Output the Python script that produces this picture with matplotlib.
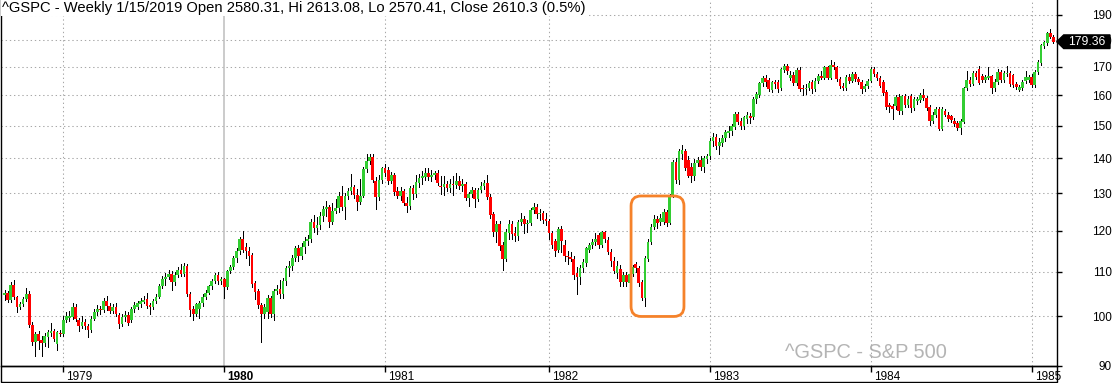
import matplotlib
matplotlib.use("Agg")
import matplotlib.pyplot as plt
import numpy as np
from matplotlib.patches import Polygon, Rectangle, FancyBboxPatch
from matplotlib.transforms import IdentityTransform
from matplotlib.ticker import FixedLocator, FixedFormatter, NullLocator, NullFormatter

plt.rcParams["font.family"] = ["Liberation Sans", "DejaVu Sans"]

# weekly S&P 500 bars, week of 25 Aug 1978 .. week of 22 Feb 1985
opens = [
    104.7, 105.2, 103.6, 107.0, 104.2, 102.0, 102.7, 103.8, 105.0, 98.2,
    94.7, 96.4, 95.2, 94.5, 95.8, 96.5, 96.9, 94.4, 96.6,
    # 1979
    96.4, 99.2, 99.7, 99.9, 102.1, 99.2, 97.9, 98.9, 98.0, 97.1,
    99.5, 100.9, 101.6, 101.4, 103.4, 102.2, 101.2, 102.1, 100.4, 98.5,
    99.9, 100.4, 99.2, 101.6, 102.1, 102.7, 103.2, 103.8, 102.5, 102.0,
    103.3, 104.2, 106.7, 108.4, 108.8, 109.4, 107.7, 109.2, 110.4, 109.4,
    111.4, 104.8, 101.7, 100.6, 101.5, 102.8, 104.3, 105.2, 106.6, 107.8, 109.2, 107.8,
    # 1980
    108.2, 106.5, 110.1, 111.0, 113.2, 115.0, 117.9, 116.0, 115.0, 114.0,
    107.4, 105.5, 102.5, 100.6, 101.0, 104.0, 100.6, 105.5, 105.9, 104.8,
    107.8, 110.9, 111.4, 113.3, 115.7, 113.8, 115.9, 117.4, 117.9, 122.2,
    120.8, 121.4, 123.7, 125.8, 126.3, 122.3, 125.2, 125.9, 129.3, 126.2,
    129.3, 130.6, 131.6, 129.6, 127.6, 129.3, 136.8, 139.1, 140.5, 133.3, 129.0, 133.8,
    # 1981
    137.0, 136.4, 133.5, 135.0, 130.7, 129.3, 130.6, 127.3, 126.4, 131.3,
    129.7, 132.9, 134.1, 134.4, 135.8, 134.4, 135.0, 135.6, 132.1, 131.7,
    132.6, 131.3, 132.6, 132.3, 133.4, 132.1, 132.5, 128.7, 129.7, 130.9,
    128.4, 130.9, 132.1, 132.7, 128.8, 124.4, 119.6, 121.6, 116.4, 112.9,
    119.4, 121.8, 119.4, 118.6, 122.2, 122.9, 121.6, 121.9, 125.3, 126.3, 124.3, 124.6, 122.9,
    # 1982
    122.6, 119.3, 117.5, 115.2, 120.4, 116.4, 113.6, 113.4, 113.1, 109.7,
    108.7, 110.9, 112.0, 115.2, 116.4, 117.2, 119.0, 116.4, 119.6, 117.7,
    114.8, 112.4, 109.7, 110.6, 107.7, 109.1, 107.4, 109.4, 111.9, 110.9,
    107.7, 104.1, 113.0, 117.2, 121.0, 122.9, 122.2, 122.2, 124.8, 122.0,
    129.3, 138.9, 133.6, 141.2, 142.2, 139.4, 137.3, 134.8, 138.5, 139.4, 137.3, 139.7,
    # 1983
    140.6, 145.2, 146.6, 143.6, 144.6, 146.2, 147.7, 148.2, 149.6, 153.7,
    151.5, 149.8, 152.2, 153.1, 152.8, 158.9, 160.3, 164.4, 166.1, 165.2,
    162.0, 164.5, 164.5, 162.7, 169.0, 170.3, 166.2, 167.2, 164.2, 169.0,
    162.7, 162.1, 162.7, 164.5, 162.2, 164.9, 166.9, 166.1, 169.8, 166.1,
    170.7, 169.8, 165.8, 163.4, 162.7, 166.5, 165.1, 167.5, 165.7, 164.8, 162.2, 163.1,
    # 1984
    165.1, 169.2, 167.4, 166.1, 164.8, 161.1, 156.8, 156.4, 156.4, 159.5,
    154.7, 159.7, 156.9, 159.7, 155.8, 158.0, 158.6, 160.2, 159.2, 156.1,
    151.6, 153.6, 155.4, 149.1, 154.7, 153.6, 153.0, 151.6, 150.9, 149.4,
    151.3, 162.4, 165.5, 164.1, 167.8, 169.4, 166.6, 165.2, 166.1, 166.6,
    162.4, 164.6, 168.2, 165.5, 167.4, 167.8, 167.0, 163.8, 162.0, 162.7, 165.0, 165.2,
    # 1985
    166.4, 163.5, 168.2, 171.3, 177.7, 178.7, 182.6, 181.3,
]
highs = [
    105.8, 105.5, 107.7, 108.1, 104.5, 103.2, 104.2, 106.3, 105.5, 98.9,
    96.8, 97.0, 95.9, 96.5, 97.2, 98.7, 97.3, 97.0, 97.2,
    100.2, 100.9, 101.2, 102.9, 102.6, 99.7, 100.0, 99.4, 98.4, 100.0,
    101.5, 102.4, 102.2, 104.0, 104.4, 103.0, 102.6, 102.8, 100.8, 100.5,
    101.2, 101.0, 102.0, 103.1, 103.3, 104.0, 104.4, 105.2, 103.0, 103.8,
    104.8, 107.1, 109.0, 109.6, 110.4, 110.1, 109.8, 111.0, 111.7, 112.0,
    111.8, 105.3, 102.2, 103.0, 103.3, 104.8, 105.8, 107.0, 108.3, 109.7, 110.0, 108.8,
    108.6, 110.5, 111.6, 113.6, 115.6, 118.5, 120.0, 116.8, 116.0, 114.5,
    107.8, 106.0, 103.0, 102.6, 104.6, 104.4, 105.9, 107.0, 108.1, 108.5,
    111.4, 112.5, 114.0, 116.2, 116.5, 116.8, 118.3, 118.8, 123.0, 124.0,
    123.5, 125.0, 126.5, 127.8, 126.8, 127.3, 128.4, 130.3, 132.1, 130.0,
    131.5, 135.5, 132.3, 131.0, 134.0, 137.5, 141.3, 141.4, 141.2, 134.5, 135.0, 137.5,
    138.2, 137.4, 136.0, 135.6, 131.8, 131.6, 131.2, 128.8, 132.0, 132.3,
    135.0, 135.3, 136.2, 137.0, 137.0, 136.5, 136.3, 136.5, 134.8, 134.9,
    133.5, 134.0, 134.8, 135.7, 134.7, 133.9, 133.0, 130.3, 131.7, 131.5,
    131.4, 133.0, 133.6, 135.0, 129.8, 125.0, 122.6, 122.4, 117.1, 120.4,
    122.8, 122.4, 121.0, 122.7, 124.7, 123.7, 122.8, 125.9, 127.2, 127.0, 125.6, 125.1, 124.6,
    123.0, 120.0, 118.0, 121.0, 121.2, 117.6, 115.0, 114.8, 113.8, 111.0,
    111.6, 113.0, 116.0, 117.0, 117.8, 119.4, 119.4, 120.0, 120.0, 118.3,
    115.4, 113.4, 112.6, 111.6, 109.8, 109.8, 110.8, 111.6, 112.3, 111.4,
    108.0, 113.6, 117.8, 121.6, 124.0, 123.8, 124.4, 125.6, 125.4, 129.8,
    139.6, 140.0, 142.8, 143.9, 142.8, 140.6, 138.6, 139.8, 140.4, 140.8, 140.6, 141.2,
    146.0, 147.6, 147.3, 146.0, 147.0, 148.6, 150.0, 150.5, 154.4, 154.5,
    152.4, 153.3, 154.3, 154.0, 159.3, 161.2, 164.8, 166.7, 167.0, 166.2,
    165.0, 165.5, 165.4, 169.6, 171.2, 171.0, 168.4, 168.0, 169.6, 170.0,
    163.6, 164.0, 165.0, 165.4, 166.0, 167.6, 168.6, 170.4, 170.5, 172.4,
    171.8, 170.4, 166.4, 164.4, 167.2, 167.4, 168.0, 168.2, 166.4, 165.4, 164.0, 165.8,
    169.8, 170.0, 168.2, 166.8, 165.4, 161.8, 157.6, 157.2, 160.2, 160.4,
    160.2, 160.6, 159.8, 160.4, 159.4, 159.5, 160.9, 162.2, 159.8, 156.8,
    154.4, 156.0, 156.0, 156.0, 155.4, 154.4, 153.6, 152.4, 151.6, 152.2,
    162.8, 168.5, 166.4, 168.6, 168.6, 170.2, 167.6, 167.2, 170.0, 167.2,
    165.6, 169.4, 169.0, 168.4, 170.2, 168.4, 167.6, 164.6, 163.6, 165.2, 168.4, 167.0,
    167.4, 168.8, 172.4, 178.6, 179.8, 183.0, 184.2, 181.9,
]
lows = [
    103.6, 103.1, 103.2, 103.8, 101.0, 101.5, 102.2, 103.3, 97.8, 94.2,
    91.9, 93.3, 92.0, 94.0, 93.7, 96.0, 95.0, 93.1, 96.0,
    96.0, 98.8, 99.0, 99.4, 99.0, 96.9, 97.5, 97.4, 95.7, 96.8,
    99.2, 100.4, 100.6, 101.0, 101.4, 100.7, 100.8, 100.2, 97.6, 98.0,
    99.0, 98.3, 98.8, 101.0, 101.7, 102.0, 102.8, 101.8, 100.6, 101.5,
    102.9, 103.9, 106.2, 107.0, 108.2, 105.8, 107.0, 108.7, 108.9, 109.0,
    104.5, 100.2, 99.3, 100.1, 99.6, 102.2, 103.8, 104.8, 106.1, 107.4, 107.2, 107.1,
    104.0, 106.0, 109.6, 110.6, 112.2, 114.2, 114.8, 113.3, 111.5, 106.4,
    103.8, 101.8, 94.7, 99.6, 99.6, 99.8, 99.3, 104.8, 104.0, 104.0,
    107.0, 109.0, 110.3, 112.6, 112.4, 113.0, 114.5, 116.4, 117.2, 119.8,
    119.2, 120.4, 122.6, 123.8, 121.0, 121.8, 124.5, 125.0, 125.5, 123.0,
    128.5, 129.8, 128.7, 125.5, 127.0, 128.8, 136.0, 138.4, 133.0, 125.8, 128.0, 132.9,
    134.9, 132.6, 132.8, 129.6, 128.6, 128.2, 126.8, 124.9, 125.8, 128.5,
    129.0, 131.8, 132.5, 133.7, 133.6, 133.5, 133.9, 132.2, 129.8, 129.6,
    130.6, 130.4, 129.6, 131.5, 131.2, 130.6, 128.0, 126.6, 129.0, 126.2,
    127.8, 130.2, 131.0, 128.5, 123.4, 118.6, 117.2, 115.2, 110.5, 112.4,
    118.0, 117.8, 117.4, 117.6, 121.5, 119.4, 119.8, 121.4, 124.6, 123.2, 122.8, 121.9, 121.5,
    117.8, 115.6, 113.8, 114.6, 114.6, 112.6, 111.8, 112.4, 108.4, 104.8,
    107.2, 109.8, 111.4, 114.6, 115.6, 116.5, 115.6, 115.8, 117.1, 114.2,
    111.3, 109.6, 108.6, 106.6, 106.6, 106.6, 106.6, 108.9, 109.8, 106.8,
    103.6, 102.2, 112.4, 116.6, 120.4, 120.6, 121.4, 121.6, 121.2, 121.6,
    128.8, 132.8, 132.4, 139.8, 136.6, 134.4, 133.2, 133.6, 137.6, 136.6, 136.0, 138.6,
    139.8, 143.8, 142.8, 141.2, 143.6, 145.1, 146.4, 147.0, 149.0, 150.6,
    148.9, 149.0, 151.0, 150.8, 152.2, 157.6, 159.6, 163.2, 163.4, 161.4,
    161.2, 162.5, 161.3, 162.0, 168.2, 167.4, 165.4, 163.6, 163.6, 161.6,
    160.2, 160.6, 161.8, 161.0, 161.6, 164.2, 165.6, 165.6, 165.6, 165.6,
    169.2, 165.0, 162.4, 161.8, 162.0, 164.4, 164.6, 165.0, 164.0, 160.8, 161.4, 162.4,
    164.6, 166.6, 165.4, 162.8, 160.2, 155.4, 154.6, 152.3, 155.6, 153.8,
    153.8, 156.2, 156.0, 154.6, 155.0, 157.2, 157.8, 158.6, 155.2, 150.4,
    150.8, 152.8, 148.8, 148.6, 153.0, 151.4, 151.2, 150.0, 148.8, 147.5,
    150.8, 161.8, 163.2, 163.6, 165.8, 163.8, 164.8, 164.6, 165.6, 160.8,
    161.6, 164.0, 164.8, 164.8, 166.8, 163.4, 162.8, 162.2, 161.4, 162.0, 164.4, 164.6,
    163.0, 163.0, 167.6, 170.8, 176.8, 178.0, 180.6, 178.8,
]
closes = [
    105.2, 103.6, 107.0, 104.2, 102.0, 102.7, 103.8, 105.0, 98.2, 94.7,
    96.4, 94.9, 94.5, 96.0, 96.7, 96.9, 95.3, 96.7, 96.3,
    99.2, 100.0, 100.2, 102.1, 99.5, 97.9, 98.9, 97.9, 97.1, 99.5,
    100.9, 101.6, 101.3, 103.4, 102.2, 101.2, 102.0, 100.6, 98.4, 99.9,
    100.4, 98.7, 101.6, 102.5, 102.9, 103.4, 103.6, 102.3, 102.0, 103.3,
    104.2, 106.7, 108.4, 108.8, 109.4, 107.7, 109.2, 110.4, 109.4, 111.4,
    104.8, 101.4, 100.6, 102.6, 102.8, 104.3, 105.2, 106.6, 107.8, 109.2, 107.8, 108.2,
    106.5, 110.1, 111.0, 113.2, 115.0, 117.9, 115.2, 114.9, 113.7, 107.2,
    105.3, 102.5, 100.6, 102.1, 104.0, 100.6, 105.5, 105.9, 104.8, 107.8,
    110.9, 111.4, 113.3, 115.7, 113.8, 115.9, 117.4, 117.9, 122.2, 120.8,
    121.4, 123.7, 125.8, 126.3, 122.3, 125.2, 125.9, 129.3, 126.2, 129.3,
    130.6, 131.6, 129.6, 127.6, 129.3, 136.7, 139.1, 140.5, 133.6, 129.0, 133.8, 137.0,
    135.6, 133.3, 135.0, 130.2, 129.3, 130.6, 127.3, 126.4, 131.3, 129.7,
    133.1, 134.1, 134.7, 135.8, 134.4, 135.0, 135.6, 132.7, 131.7, 132.6,
    131.3, 132.6, 132.3, 133.4, 132.0, 132.5, 128.7, 129.7, 130.9, 128.4,
    130.9, 132.1, 132.7, 129.0, 124.0, 119.6, 121.6, 116.1, 112.9, 119.6,
    121.8, 119.2, 118.6, 122.2, 122.9, 121.6, 121.9, 125.3, 126.3, 124.3, 124.6, 122.7, 122.6,
    119.3, 116.4, 115.0, 120.4, 117.3, 113.6, 113.4, 113.1, 109.2, 108.7,
    110.9, 112.3, 115.6, 116.4, 117.2, 118.0, 116.4, 119.6, 117.8, 114.8,
    112.4, 110.2, 111.4, 107.5, 109.1, 107.7, 109.4, 111.0, 110.9, 107.4,
    104.1, 113.2, 117.2, 121.0, 122.9, 122.0, 123.4, 124.8, 121.9, 129.3,
    138.9, 133.6, 142.2, 142.6, 137.0, 134.8, 134.8, 138.5, 139.4, 137.3, 140.0, 140.7,
    145.2, 146.6, 143.6, 144.8, 146.2, 148.0, 148.5, 149.8, 153.7, 151.2,
    149.8, 152.8, 153.6, 152.5, 158.9, 160.6, 164.4, 166.1, 164.8, 162.1,
    164.5, 164.0, 162.2, 169.2, 170.3, 168.4, 167.2, 164.2, 169.0, 162.3,
    162.1, 162.7, 164.2, 162.2, 165.1, 166.9, 166.1, 169.8, 166.1, 170.7,
    169.8, 165.8, 163.1, 162.7, 166.5, 165.1, 167.5, 165.7, 164.8, 162.2, 163.4, 165.1,
    169.2, 167.4, 166.1, 163.4, 160.8, 156.2, 156.1, 155.6, 159.5, 154.7,
    159.7, 156.9, 158.8, 155.8, 158.8, 158.9, 160.2, 159.2, 155.8, 151.6,
    153.6, 155.4, 149.1, 155.4, 153.6, 152.1, 151.9, 150.6, 149.4, 151.6,
    162.4, 165.5, 164.1, 167.8, 166.4, 164.4, 165.5, 166.4, 166.6, 162.4,
    164.6, 168.2, 165.5, 167.8, 167.8, 164.1, 163.5, 162.9, 162.9, 164.6, 166.4, 166.4,
    163.5, 168.2, 171.9, 178.2, 179.2, 182.6, 181.3, 179.36,
]

year_labels = ["1979", "1980", "1981", "1982", "1983", "1984", "1985"]
year_first_bar = [19, 71, 123, 176, 228, 280, 332]
price_ticks = [90, 100, 110, 120, 130, 140, 150, 160, 170, 180, 190]

title = ("^GSPC - Weekly 1/15/2019 Open 2580.31, Hi 2613.08, "
         "Lo 2570.41, Close 2610.3 (0.5%)")
watermark = "^GSPC - S&P 500"

# highlighted area (bar index range, price range)
box_bars = (202.5, 219.6)
box_prices = (100.0, 129.2)

UP = "#32cd32"
DOWN = "#ff0000"
GRID = "#a8a8a8"

W, H = 1117, 383
fig = plt.figure(figsize=(W / 100, H / 100), dpi=100)
ax = fig.add_axes([0.5 / W, 17 / H, 1056.2 / W, 366 / H])

x = np.arange(len(closes))
o = np.array(opens)
c = np.array(closes)
rising = c >= o
colors = np.where(rising, UP, DOWN)

ax.set_yscale("log")
ax.vlines(x, lows, highs, colors="black", linewidth=0.5, zorder=3,
          antialiased=False)
ax.bar(x, np.abs(c - o), bottom=np.minimum(o, c), width=0.86,
       color=colors, linewidth=0, zorder=4, antialiased=False)

ax.set_xlim(-1.3, 340.07)
ax.set_ylim(90, 196)

# grid
for v in price_ticks:
    ax.axhline(v, color=GRID, lw=0.75, ls=(0, (1.3, 2.7)), zorder=1)
for lab, b in zip(year_labels, year_first_bar):
    if lab == "1980":
        ax.axvline(b, color="#bdbdbd", lw=1.1, zorder=1)
    else:
        ax.axvline(b, color=GRID, lw=0.75, ls=(0, (1.3, 2.7)), zorder=1)

# axes frame
ax.spines["top"].set_visible(False)
for s in ("left", "right", "bottom"):
    ax.spines[s].set_linewidth(1.0)
    ax.spines[s].set_color("black")

# price axis on the right
ax.yaxis.tick_right()
ax.yaxis.set_major_locator(FixedLocator(price_ticks))
ax.yaxis.set_major_formatter(FixedFormatter([str(v) for v in price_ticks]))
ax.yaxis.set_minor_locator(NullLocator())
ax.yaxis.set_minor_formatter(NullFormatter())
ax.tick_params(axis="y", which="major", direction="out", length=3.6, width=1,
               pad=36.2, labelsize=8.5, colors="black")
plt.setp(ax.get_yticklabels(), ha="right")

# year axis
ax.set_xticks(year_first_bar)
ax.set_xticklabels([])
ax.tick_params(axis="x", direction="out", length=4.3, width=1)
for lab, b in zip(year_labels, year_first_bar):
    ax.annotate(lab, xy=(b, 0), xycoords=("data", "axes fraction"),
                xytext=(3, -13.5), textcoords="offset pixels",
                ha="left", va="baseline", fontsize=8.5,
                fontweight="bold" if lab == "1980" else "normal")

# frame around the date strip
fig.add_artist(Rectangle((0.5 / W, 1.5 / H), 1056.2 / W, 15.5 / H,
                         transform=fig.transFigure, fill=False,
                         edgecolor="black", linewidth=1.0))

# watermark
ax.text((785 - 0.5) / 1056.2, 8 / 366, watermark, transform=ax.transAxes,
        fontsize=14.4, color="#b4b4b4", ha="left", va="baseline", zorder=0.5)

# title
fig.text(2 / W, 1 - 1 / H, title, ha="left", va="top", fontsize=10.6,
         color="black",
         bbox=dict(boxstyle="square,pad=0.08", fc="white", ec="none"))

# highlight box around the 1982 turn
(bx0, by0), (bx1, by1) = ax.transData.transform(
    [(box_bars[0], box_prices[0]), (box_bars[1], box_prices[1])])
fig.add_artist(FancyBboxPatch((bx0, by0), bx1 - bx0, by1 - by0,
                              boxstyle="round,pad=0,rounding_size=10",
                              transform=IdentityTransform(), fill=False,
                              edgecolor="#f5822a", linewidth=2.0, zorder=6))

# last price tag
right_px = ax.transAxes.transform((1, 0))[0]
yc = ax.transData.transform((0, closes[-1]))[1]
tag = [(right_px, yc), (right_px + 7, yc + 6.8), (1110, yc + 6.8),
       (1110, yc - 6.8), (right_px + 7, yc - 6.8)]
fig.add_artist(Polygon(tag, closed=True, transform=IdentityTransform(),
                       facecolor="black", edgecolor="black", zorder=7))
fig.text((right_px + 7 + 1110) / 2 / W, yc / H, f"{closes[-1]:.2f}",
         ha="center", va="center", fontsize=8.7, color="white", zorder=8)

fig.savefig("out.png", dpi=100)
